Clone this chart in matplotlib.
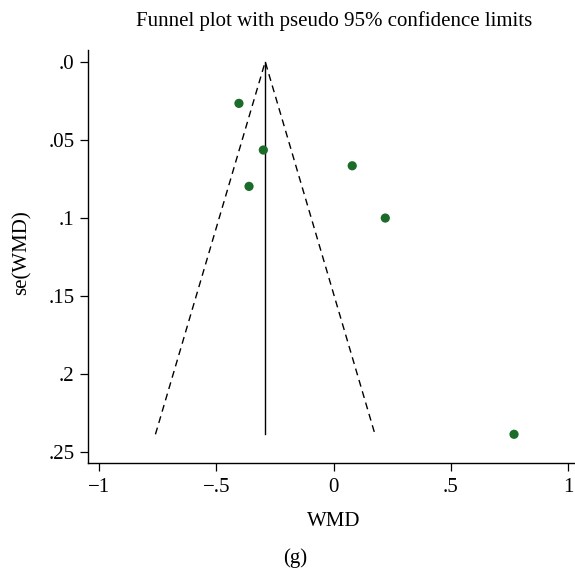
import matplotlib
matplotlib.use("Agg")
import matplotlib.pyplot as plt

# study estimates (WMD) and their standard errors
wmd = [-0.404, -0.300, -0.361, 0.079, 0.220, 0.769]
se_wmd = [0.0267, 0.0566, 0.0799, 0.0667, 0.1002, 0.2388]
pooled = -0.292

xticks = [-1, -0.5, 0, 0.5, 1]
xticklabels = ["\u22121", "\u2212.5", "0", ".5", "1"]
yticks = [0, 0.05, 0.1, 0.15, 0.2, 0.25]
yticklabels = [".0", ".05", ".1", ".15", ".2", ".25"]

plt.rcParams['font.family'] = ['Liberation Serif', 'DejaVu Serif']
fs = 15

W, H = 575, 571
fig = plt.figure(figsize=(W / 100, H / 100), dpi=100)
ax = fig.add_axes([0.1525, 0.1886, 0.8475, 0.7238])

# funnel: pseudo 95% limits around the pooled estimate
se_max = max(se_wmd)
ax.plot([pooled - 1.96 * se_max, pooled, pooled + 1.96 * se_max], [se_max, 0, se_max],
        color='black', linestyle=(0, (5, 3.5)), linewidth=1.0)
ax.plot([pooled, pooled], [0, se_max], color='black', linewidth=1.0)
ax.scatter(wmd, se_wmd, s=44, color='#1b6b2b', zorder=3, edgecolors='none')

ax.set_xlim(-1.049, 1.029)
ax.set_ylim(0.2574, -0.0075)
ax.set_xticks(xticks)
ax.set_xticklabels(xticklabels, fontsize=fs)
ax.set_yticks(yticks)
ax.set_yticklabels(yticklabels, fontsize=fs)
ax.tick_params(direction='out', length=5.5, width=0.9)
ax.tick_params(axis='x', pad=5)
ax.tick_params(axis='y', pad=4)

for side in ['top', 'right']:
    ax.spines[side].set_visible(False)
for side in ['left', 'bottom']:
    ax.spines[side].set_linewidth(1.0)

ax.set_xlabel("WMD", fontsize=fs, va='center', ha='center')
ax.xaxis.set_label_coords(0.5055, -0.1396)
ax.set_ylabel("se(WMD)", fontsize=fs, va='center', ha='center')
ax.yaxis.set_label_coords(-0.1354, 0.51)

fig.text(334 / W, 1 - 21 / H, "Funnel plot with pseudo 95% confidence limits",
         fontsize=fs, ha='center', va='center')
fig.text(295 / W, 1 - 558 / H, "(g)", fontsize=fs, ha='center', va='center')

fig.savefig("out.png", dpi=100, facecolor='white')
